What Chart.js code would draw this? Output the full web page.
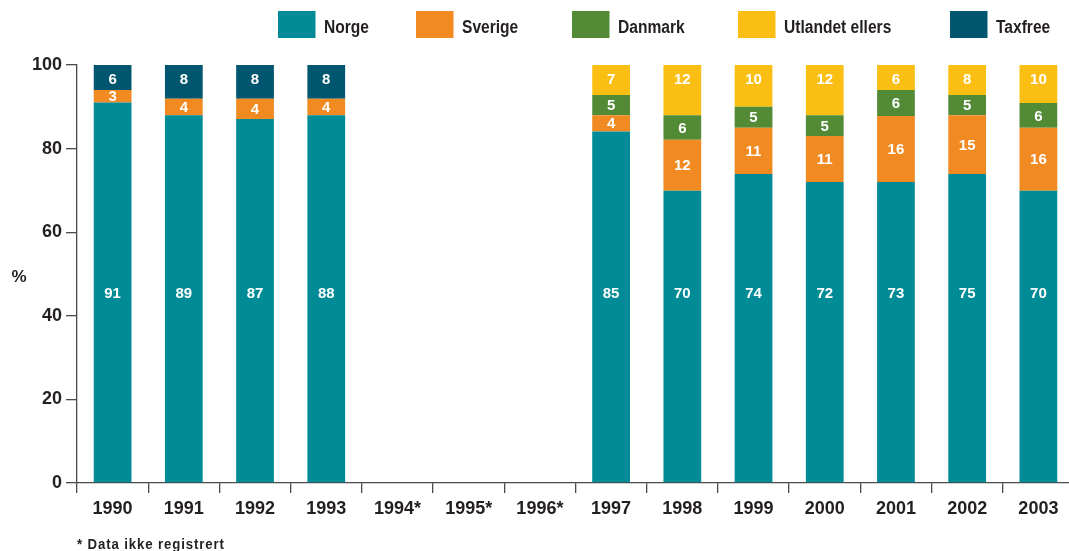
<!DOCTYPE html>
<html lang="no">
<head>
<meta charset="utf-8">
<title>Handel etter land</title>
<script src="https://cdn.jsdelivr.net/npm/chart.js@4.4.1/dist/chart.umd.min.js"></script>
<style>
  html, body { margin: 0; padding: 0; background: #fff; overflow: hidden; }
  #wrap { width: 1075px; height: 551px; }
</style>
</head>
<body>
<div id="wrap"><canvas id="chart" width="1075" height="551"></canvas></div>
<script>
// Years on the x axis (1994-1996: no data registered)
const years = ['1990', '1991', '1992', '1993', '1994*', '1995*', '1996*',
               '1997', '1998', '1999', '2000', '2001', '2002', '2003'];

// Bar segment heights (%)
const norge    = [91.0, 88.0, 87.1, 88.0, null, null, null, 84.1, 69.9, 73.9, 72.0, 72.0, 73.9, 69.9];
const sverige  = [3.0, 3.9, 4.8, 3.9, null, null, null, 3.9, 12.2, 11.1, 11.0, 15.8, 14.1, 15.1];
const danmark  = [null, null, null, null, null, null, null, 4.8, 5.9, 5.0, 5.0, 6.2, 4.8, 5.9];
const utlandet = [null, null, null, null, null, null, null, 7.2, 12.0, 10.0, 12.0, 6.0, 7.2, 9.1];
const taxfree  = [6.0, 8.1, 8.1, 8.1, null, null, null, null, null, null, null, null, null, null];

// Printed (rounded) values inside the bars
const norgeLabels    = [91, 89, 87, 88, null, null, null, 85, 70, 74, 72, 73, 75, 70];
const sverigeLabels  = [3, 4, 4, 4, null, null, null, 4, 12, 11, 11, 16, 15, 16];
const danmarkLabels  = [null, null, null, null, null, null, null, 5, 6, 5, 5, 6, 5, 6];
const utlandetLabels = [null, null, null, null, null, null, null, 7, 12, 10, 12, 6, 8, 10];
const taxfreeLabels  = [6, 8, 8, 8, null, null, null, null, null, null, null, null, null, null];

const yTicks = [0, 20, 40, 60, 80, 100];

const INK = '#231f20';
const AXIS = '#4a4a4a';

// labelPos: 'norge' -> fixed low position, 'top' -> fixed near 100, 'mid' -> segment centre
const datasets = [
    { label: 'Norge',           data: norge,    labels: norgeLabels,    labelPos: 'norge', backgroundColor: '#008b96' },
    { label: 'Sverige',         data: sverige,  labels: sverigeLabels,  labelPos: 'mid',   backgroundColor: '#f08a21' },
    { label: 'Danmark',         data: danmark,  labels: danmarkLabels,  labelPos: 'mid',   backgroundColor: '#528a35' },
    { label: 'Utlandet ellers', data: utlandet, labels: utlandetLabels, labelPos: 'top',   backgroundColor: '#fbbf14' },
    { label: 'Taxfree',         data: taxfree,  labels: taxfreeLabels,  labelPos: 'top',   backgroundColor: '#00566e' }
];

// Values printed inside the bars
const barLabels = {
    id: 'barLabels',
    afterDatasetsDraw(chart) {
        const ctx = chart.ctx;
        const y = chart.scales.y;
        ctx.save();
        ctx.font = 'bold 15px "Liberation Sans", Arial, sans-serif';
        ctx.fillStyle = '#ffffff';
        ctx.textAlign = 'center';
        ctx.textBaseline = 'middle';
        chart.data.datasets.forEach((ds, i) => {
            const meta = chart.getDatasetMeta(i);
            meta.data.forEach((bar, j) => {
                const txt = ds.labels[j];
                if (txt == null) return;
                let py;
                if (ds.labelPos === 'norge') py = y.getPixelForValue(45.6);
                else if (ds.labelPos === 'top') py = y.getPixelForValue(96.7);
                else py = (bar.y + bar.base) / 2;
                ctx.fillText(String(txt), bar.x, py + 1);
            });
        });
        ctx.restore();
    }
};

// condensed bold text: squeeze horizontally around the left edge
function narrowText(ctx, txt, x, y, squeeze) {
    ctx.save();
    ctx.translate(x, y);
    ctx.scale(squeeze, 1);
    ctx.fillText(txt, 0, 0);
    ctx.restore();
}

// Legend row, "%" label and footnote
const decorations = {
    id: 'decorations',
    afterDraw(chart, args, opts) {
        const ctx = chart.ctx;
        ctx.save();

        // legend
        ctx.font = 'bold 18px "Liberation Sans", Arial, sans-serif';
        ctx.textAlign = 'left';
        ctx.textBaseline = 'alphabetic';
        chart.data.datasets.forEach((ds, i) => {
            const bx = opts.legendX[i];
            ctx.fillStyle = ds.backgroundColor;
            ctx.fillRect(bx, 11, 37.5, 27);
            ctx.fillStyle = INK;
            narrowText(ctx, ds.label, bx + 46, 33.3, 0.865);
        });

        // footnote
        ctx.font = 'bold 15px "Liberation Sans", Arial, sans-serif';
        ctx.letterSpacing = '1px';
        narrowText(ctx, '* Data ikke registrert', 77, 549, 0.88);
        ctx.letterSpacing = '0px';

        // y unit
        ctx.font = 'bold 17px "Liberation Sans", Arial, sans-serif';
        ctx.textAlign = 'center';
        ctx.textBaseline = 'middle';
        ctx.fillText('%', 19, 277);

        ctx.restore();
    }
};

const chart = new Chart(document.getElementById('chart'), {
    type: 'bar',
    data: { labels: years, datasets: datasets },
    options: {
        responsive: false,
        animation: false,
        devicePixelRatio: 1,
        layout: { padding: { top: 65, right: 1, left: 0, bottom: 0 } },
        datasets: {
            bar: { categoryPercentage: 1, barPercentage: 0.53, borderWidth: 0 }
        },
        plugins: {
            legend: { display: false },
            tooltip: { enabled: false },
            decorations: { legendX: [278, 416, 572, 738, 950] }
        },
        scales: {
            x: {
                stacked: true,
                afterFit(scale) { scale.height = 68; },
                grid: {
                    offset: true,
                    drawOnChartArea: false,
                    tickLength: 10,
                    color: AXIS,
                    lineWidth: 1.3
                },
                border: { display: true, color: AXIS, width: 1.3 },
                ticks: {
                    color: INK,
                    padding: 5,
                    autoSkip: false,
                    maxRotation: 0,
                    font: { family: '"Liberation Sans", Arial, sans-serif', size: 18, weight: 'bold' }
                }
            },
            y: {
                stacked: true,
                min: 0,
                max: 100,
                afterFit(scale) { scale.width = 77; },
                afterBuildTicks(scale) { scale.ticks = yTicks.map(v => ({ value: v })); },
                grid: {
                    drawOnChartArea: false,
                    tickLength: 11,
                    color: AXIS,
                    lineWidth: 1.3
                },
                border: { display: true, color: AXIS, width: 1.3 },
                ticks: {
                    color: INK,
                    padding: 4,
                    font: { family: '"Liberation Sans", Arial, sans-serif', size: 18, weight: 'bold' }
                }
            }
        }
    },
    plugins: [barLabels, decorations]
});
</script>
</body>
</html>
